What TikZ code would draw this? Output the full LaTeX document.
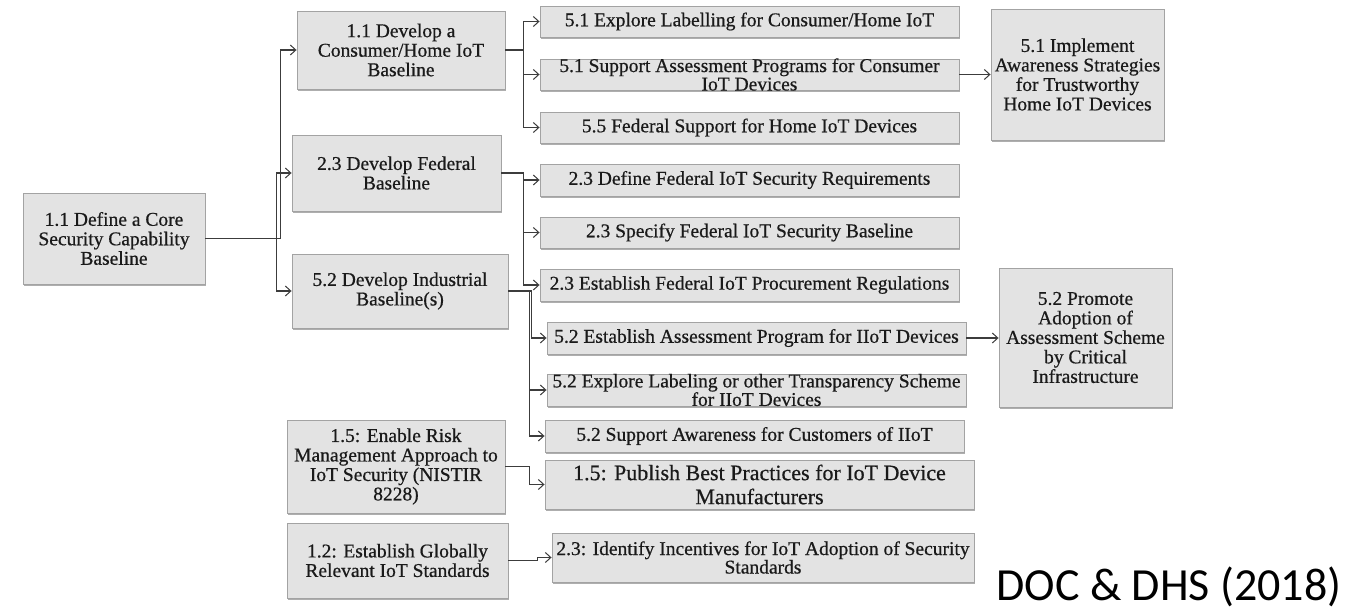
\documentclass[tikz,border=0pt]{standalone}
\usepackage{fontspec}
\setmainfont{Liberation Serif}[FakeBold=0.6]
\newfontfamily\capfont{Carlito}
\usetikzlibrary{arrows.meta,shadows}

\definecolor{boxfill}{HTML}{E3E3E3}
\definecolor{boxline}{HTML}{A3A3A3}
\definecolor{wirecol}{HTML}{3C3C3C}
\definecolor{ink}{HTML}{1A1A1A}

\tikzset{
  card/.style={rectangle, draw=boxline, line width=0.9pt, fill=boxfill, inner sep=0pt,
    drop shadow={shadow xshift=0.6pt, shadow yshift=-1.8pt, fill=black!45, opacity=0.7}},
  words/.style={text=ink, align=center, inner sep=0pt, font=\fontsize{19.5}{19.5}\selectfont},
  tight/.style={font=\fontsize{19.5}{18.5}\selectfont},
  wire/.style={draw=wirecol, line width=1.1pt,
    -{Straight Barb[length=5.5pt,width=10pt,line width=1pt]}},
}

\begin{document}
\begin{tikzpicture}[x=1pt,y=-1pt]
\useasboundingbox (0,0) rectangle (1353,610);

% ---- boxes ----
\node[card, minimum width=182, minimum height=91] (root) at (114,238.5) {};
\node[card, minimum width=208, minimum height=78] (cons) at (401,50) {};
\node[card, minimum width=209, minimum height=76] (fed)  at (396.5,173) {};
\node[card, minimum width=216, minimum height=74] (ind)  at (400,291) {};
\node[card, minimum width=218, minimum height=93] (risk) at (396,466.5) {};
\node[card, minimum width=221, minimum height=75] (glob) at (397.5,560.5) {};

\node[card, minimum width=419, minimum height=31] (lab51)  at (749.5,21.5) {};
\node[card, minimum width=419, minimum height=31] (sup51)  at (749.5,74.5) {};
\node[card, minimum width=419, minimum height=31] (fed55)  at (749.5,127.5) {};
\node[card, minimum width=419, minimum height=32] (def23)  at (749.5,180) {};
\node[card, minimum width=419, minimum height=31] (spec23) at (749.5,232.5) {};
\node[card, minimum width=419, minimum height=32] (proc23) at (749.5,285) {};
\node[card, minimum width=419, minimum height=32] (ass52)  at (756.5,338) {};
\node[card, minimum width=419, minimum height=32] (lab52)  at (756.5,390) {};
\node[card, minimum width=419, minimum height=32] (aw52)   at (754.5,436) {};
\node[card, minimum width=429, minimum height=49] (pub15)  at (759.5,484.5) {};
\node[card, minimum width=422, minimum height=49] (inc23)  at (763,557.5) {};

\node[card, minimum width=173, minimum height=131] (impl51) at (1077.5,74.5) {};
\node[card, minimum width=173, minimum height=139] (prom52) at (1085.5,337.5) {};

% ---- texts ----
\node[words] (root-t) at (root) {1.1 Define a Core\\Security Capability\\Baseline};
\node[words] (cons-t) at (cons) {1.1 Develop a\\Consumer/Home IoT\\Baseline};
\node[words] (fed-t)  at (fed)  {2.3 Develop Federal\\Baseline};
\node[words] (ind-t)  at (ind)  {5.2 Develop Industrial\\Baseline(s)};
\node[words] (risk-t) at (risk) {1.5: Enable Risk\\Management Approach to\\IoT Security (NISTIR\\8228)};
\node[words] (glob-t) at (glob) {1.2: Establish Globally\\Relevant IoT Standards};

\node[words] (lab51-t)  at (lab51)  {5.1 Explore Labelling for Consumer/Home IoT};
\node[words, tight] (sup51-t) at (sup51) {5.1 Support Assessment Programs for Consumer\\IoT Devices};
\node[words] (fed55-t)  at (fed55)  {5.5 Federal Support for Home IoT Devices};
\node[words] (def23-t)  at (def23)  {2.3 Define Federal IoT Security Requirements};
\node[words] (spec23-t) at (spec23) {2.3 Specify Federal IoT Security Baseline};
\node[words] (proc23-t) at (proc23) {2.3 Establish Federal IoT Procurement Regulations};
\node[words] (ass52-t)  at (ass52)  {5.2 Establish Assessment Program for IIoT Devices};
\node[words, tight] (lab52-t) at (lab52) {5.2 Explore Labeling or other Transparency Scheme\\for IIoT Devices};
\node[words] (aw52-t)   at (aw52)   {5.2 Support Awareness for Customers of IIoT};
\node[words, font=\fontsize{22}{24}\selectfont] (pub15-t) at (pub15) {1.5: Publish Best Practices for IoT Device\\Manufacturers};
\node[words, tight] (inc23-t) at (inc23) {2.3: Identify Incentives for IoT Adoption of Security\\Standards};

\node[words] (impl51-t) at (impl51) {5.1 Implement\\Awareness Strategies\\for Trustworthy\\Home IoT Devices};
\node[words] (prom52-t) at (prom52) {5.2 Promote\\Adoption of\\Assessment Scheme\\by Critical\\Infrastructure};

\node[font=\capfont\fontsize{46}{50}\selectfont, inner sep=0pt, anchor=base] (cite) at (1169,600) {DOC \& DHS (2018)};

% ---- connectors ----
\draw[wire] (root.east) -- ++(75,0) |- (cons.west);
\draw[wire] (root.east) -- ++(71,0) |- (fed.west);
\draw[wire] (root.east) -- ++(71,0) |- (ind.west);

\draw[wire] (cons.east) -- ++(18,0) |- (lab51.west);
\draw[wire] (cons.east) -- ++(18,0) |- (sup51.west);
\draw[wire] (cons.east) -- ++(18,0) |- (fed55.west);

\draw[wire] (fed.east) -- ++(22,0) |- (def23.west);
\draw[wire] (fed.east) -- ++(22,0) |- (spec23.west);
\draw[wire] (fed.east) -- ++(22,0) |- (proc23.west);

\draw[wire] (ind.east) -- ++(23,0) |- (ass52.west);
\draw[wire] (ind.east) -- ++(21,0) |- (lab52.west);
\draw[wire] (ind.east) -- ++(21,0) |- (aw52.west);

\draw[wire] (risk.east) -- ++(24,0) |- (pub15.west);
\draw[wire] (glob.east) -- ++(29,0) |- (inc23.west);

\draw[wire] (sup51.east) -- (impl51.west |- sup51.east);
\draw[wire] (ass52.east) -- (prom52.west |- ass52.east);
\end{tikzpicture}
\end{document}
